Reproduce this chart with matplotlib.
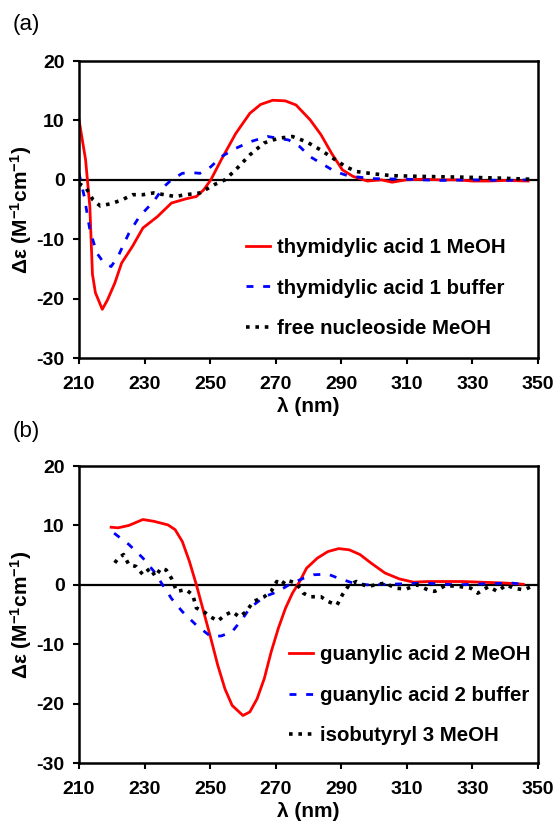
import numpy as np
import matplotlib
matplotlib.use("Agg")
import matplotlib.pyplot as plt

plt.rcParams["font.family"] = ["Liberation Sans", "DejaVu Sans"]
plt.rcParams["font.weight"] = "bold"
plt.rcParams["axes.unicode_minus"] = False
plt.rcParams["mathtext.fontset"] = "custom"
plt.rcParams["mathtext.rm"] = "Liberation Sans:bold"
plt.rcParams["mathtext.bf"] = "Liberation Sans:bold"
plt.rcParams["mathtext.default"] = "bf"

# (a) thymidylic acid
a_red_x = [210, 212, 213.3, 214.1, 215, 217.1, 218.7, 220.9, 223, 226.3, 229.5, 233.9, 238.2,
           242.6, 245.8, 248, 250.2, 253.4, 257.8, 262.1, 265.4, 269.1, 272.9, 276.2, 280.5,
           283.8, 287, 290.3, 293.5, 297.9, 302.2, 305.5, 309.8, 315, 320, 325, 330, 335, 340, 347]
a_red_y = [10.1, 3.4, -4.5, -15.9, -19, -21.8, -20.2, -17.4, -14, -11.2, -8.1, -6.2, -3.9,
           -3.2, -2.8, -1.7, 0, 3.4, 7.8, 11.2, 12.7, 13.4, 13.3, 12.6, 10.1,
           7.6, 4.5, 1.7, 0.6, -0.2, 0, -0.4, 0, 0.1, 0, 0, -0.2, -0.2, -0.1, -0.2]

a_blue_x = [210, 211.6, 213.3, 215.4, 217.6, 219.8, 221.9, 225.2, 228.4, 232.8, 236, 238.2,
            241.5, 244.7, 246.9, 250.2, 253.4, 257.8, 262.1, 267.5, 270.8, 274, 277.3, 280.5,
            283.8, 288.1, 291.4, 294.6, 300, 310, 320, 330, 340, 347]
a_blue_y = [1.1, -2.8, -8.4, -12.3, -14, -14.6, -12.9, -9, -6.2, -3.6, -1.1, 0,
            1.1, 1.2, 1.1, 2.2, 3.9, 5.3, 6.4, 7.3, 7, 6.7, 5.6, 3.9,
            2.8, 1.4, 0.8, 0.5, 0.2, 0.1, -0.1, 0, -0.1, 0]

a_black_x = [210, 212.2, 214.3, 216.5, 219.8, 223, 226.3, 229.5, 232.8, 236, 239.3, 242.6,
             246.9, 251.3, 254.5, 257.8, 262.1, 266.4, 270.8, 275.1, 279.4, 283.8, 288.1,
             291.4, 294.6, 300, 305.5, 316.4, 327.2, 338, 347.7]
a_black_y = [-0.6, -1.4, -3.4, -4.4, -4, -3.4, -2.5, -2.5, -2.2, -2.5, -2.8, -2.5,
             -2.2, -0.8, 0, 1.7, 4.2, 6.2, 7, 7.3, 6.4, 5, 3.4,
             2.2, 1.4, 1.0, 0.7, 0.56, 0.45, 0.3, 0.1]

# (b) guanylic acid
b_red_x = [219.8, 221.9, 225.2, 229.5, 232.8, 237.1, 239.3, 241.5, 243.7, 245.8, 248, 250.2,
           252.3, 254.5, 256.7, 260, 262.1, 264.3, 266.5, 268.6, 270.8, 273, 275.1, 277.3,
           279.4, 282.7, 285.9, 289.2, 292.4, 295.7, 299, 303.3, 307.7, 312, 316.4, 327,
           332.5, 340, 345.5]
b_red_y = [9.7, 9.6, 10, 11, 10.7, 10.1, 9.3, 7.3, 3.9, 0, -4.5, -9,
           -13.5, -17.5, -20.3, -22, -21.4, -19.2, -15.8, -11.3, -7.3, -3.9, -1.4, 0.56,
           2.8, 4.5, 5.6, 6.1, 5.9, 5.1, 3.7, 2, 1, 0.45, 0.56, 0.56,
           0.45, 0.3, 0.1]

b_blue_x = [220.7, 225.2, 229.5, 232.8, 235.5, 238.2, 241.5, 245.8, 250.2, 253.4, 256.7, 260,
            262.1, 266.5, 270.8, 274, 278.4, 281.6, 285.9, 289.2, 293.6, 297.9, 305, 315,
            325, 335, 342, 347]
b_blue_y = [8.7, 6.8, 4.5, 2.3, 0, -2.3, -4.5, -6.8, -8.7, -8.6, -7.9, -5.6,
            -3.9, -2, -1.1, 0, 1.1, 1.7, 1.8, 1.1, 0.3, 0, 0.1, 0.3,
            0, 0.2, 0.3, 0]

b_black_x = [220.9, 222, 223.6, 225.2, 227.4, 229.5, 231.7, 233.3, 235, 236.6, 238.2, 239.8,
             242.6, 244.7, 245.8, 248, 250.2, 252.3, 254.5, 256.7, 258.9, 261, 263.2, 266.5,
             268.6, 270.3, 271.9, 273, 276.2, 278.4, 280.5, 283.8, 285.9, 288.7, 290.3, 292.4,
             294.6, 297.9, 301.2, 303.4, 306.6, 309.8, 313.1, 316.4, 318.5, 321.8, 326.2,
             329.5, 331.6, 334.9, 337.6, 340.4, 342.5, 345.8, 349]
b_black_y = [3.7, 4.5, 5.1, 3.4, 3.1, 1.7, 2.8, 1.4, 2.8, 2.5, 1.1, -1.1,
             -0.8, -1.7, -3.9, -4.5, -5.4, -6.1, -5.1, -4.5, -5.4, -4.5, -2.8, -2,
             -1.1, 0.56, 0, 0.85, 0.3, -1.4, -2, -2, -2.8, -3.4, -1.7, 0,
             0.56, -0.3, 0.1, 0.3, -0.56, -0.7, 0, -0.85, -1.1, -0.1, -0.3,
             -0.56, -1.4, -0.3, -1.1, 0, -0.56, -0.85, 0]

panels = [
    ("(a)", [(a_red_x, a_red_y, "thymidylic acid 1 MeOH"),
             (a_blue_x, a_blue_y, "thymidylic acid 1 buffer"),
             (a_black_x, a_black_y, "free nucleoside MeOH")]),
    ("(b)", [(b_red_x, b_red_y, "guanylic acid 2 MeOH"),
             (b_blue_x, b_blue_y, "guanylic acid 2 buffer"),
             (b_black_x, b_black_y, "isobutyryl 3 MeOH")]),
]
styles = [dict(color="#ff0000", ls="-", lw=2.0),
          dict(color="#0000ff", ls=(0, (2.5, 3.5)), lw=2.0),
          dict(color="black", ls=(0, (1, 1.6)), lw=2.6)]

fig = plt.figure(figsize=(5.58, 8.24), dpi=100)
axes_pos = [[0.1416, 0.5655, 0.8226, 0.3604], [0.1416, 0.074, 0.8226, 0.3604]]
legend_anchor = [(0.346, 0.431), (0.439, 0.424)]
label_y = [0.970, 0.476]

for i, (tag, series) in enumerate(panels):
    ax = fig.add_axes(axes_pos[i])
    ax.axhline(0, color="black", lw=1.6, zorder=1)
    for (x, y, lab), st in zip(series, styles):
        ax.plot(x, y, label=lab, zorder=2, **st)
    ax.set_xlim(210, 350)
    ax.set_ylim(-30, 20)
    ax.set_xticks(np.arange(210, 351, 20))
    ax.set_yticks(np.arange(-30, 21, 10))
    ax.tick_params(direction="out", length=4.3, width=1.5, labelsize=14)
    ax.tick_params(axis="x", pad=8.5)
    ax.tick_params(axis="y", pad=6)
    for lbl in ax.get_xticklabels() + ax.get_yticklabels():
        lbl.set_fontweight("bold")
    for sp in ax.spines.values():
        sp.set_linewidth(1.8)
    ax.set_xlabel("λ (nm)", fontsize=15, fontweight="bold", labelpad=3)
    ax.set_ylabel("Δε (M$^{-1}$cm$^{-1}$)", fontsize=15, fontweight="bold", labelpad=2)
    ax.legend(loc="upper left", bbox_to_anchor=legend_anchor[i], frameon=False,
              prop={"size": 14.7, "weight": "bold"}, handlelength=1.18,
              handletextpad=0.34, labelspacing=1.05, borderaxespad=0)
    fig.text(0.023, label_y[i], tag, fontsize=16, fontweight="normal", va="center")

fig.savefig("out.png", dpi=100)
